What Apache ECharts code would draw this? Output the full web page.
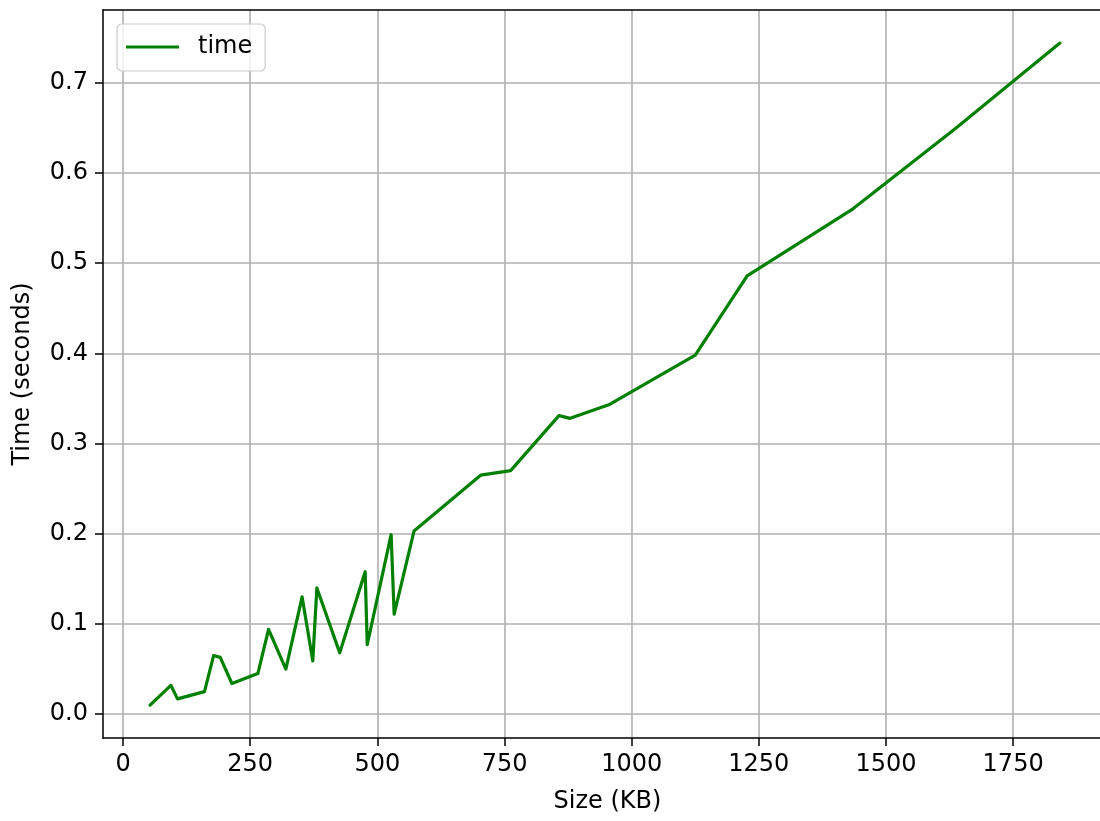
<!DOCTYPE html>
<html>
<head>
<meta charset="utf-8">
<title>Time vs Size</title>
<script src="https://cdn.jsdelivr.net/npm/echarts@6/dist/echarts.min.js"></script>
<style>
  html, body { margin: 0; padding: 0; background: #ffffff; overflow: hidden; }
  #chart { width: 1100px; height: 821px; }
</style>
</head>
<body>
<div id="chart"></div>
<script>
// File size in KB for each measurement
const sizes = [53, 94, 107, 160, 178, 191, 214, 265, 286, 320, 352, 373, 381, 426,
               476, 480, 527, 533, 572, 703, 762, 857, 879, 955, 1125, 1227, 1432, 1636, 1842];
// Elapsed time in seconds for each size
const times = [0.010, 0.032, 0.017, 0.025, 0.065, 0.063, 0.034, 0.045, 0.094, 0.050,
               0.130, 0.059, 0.140, 0.068, 0.158, 0.077, 0.199, 0.111, 0.203, 0.265,
               0.270, 0.331, 0.328, 0.343, 0.398, 0.486, 0.559, 0.649, 0.744];
// Tick positions
const xTicks = [0, 250, 500, 750, 1000, 1250, 1500, 1750];
const yTicks = [0.0, 0.1, 0.2, 0.3, 0.4, 0.5, 0.6, 0.7];

const FONT = 'DejaVu Sans';
// visible x range: the frame's right edge falls just past the page edge
const X_MIN = -39.5, X_MAX = 1920.8;
const points = sizes.map((s, i) => [s, times[i]]);

const spine = { show: true, onZero: false, lineStyle: { color: '#000000', width: 1.5 } };

const chart = echarts.init(document.getElementById('chart'), null, { renderer: 'canvas' });
chart.setOption({
  animation: false,
  backgroundColor: '#ffffff',
  textStyle: { fontFamily: FONT },
  grid: {
    left: 103, top: 10, width: 997, height: 728,
    outerBoundsMode: 'none',
    show: false
  },
  legend: {
    left: 117, top: 24,
    data: ['time'],
    icon: 'rect',
    itemWidth: 53, itemHeight: 3,
    padding: [9, 13, 10, 9],
    backgroundColor: 'rgba(255,255,255,0.8)',
    borderColor: '#cccccc', borderWidth: 1.2, borderRadius: 5,
    formatter: '{t|{name}}',
    textStyle: {
      fontFamily: FONT, fontSize: 24, color: '#000000', lineHeight: 28,
      rich: { t: { fontFamily: FONT, fontSize: 24, color: '#000000', lineHeight: 28, padding: [0, 0, 0, 14] } }
    }
  },
  xAxis: [{
    type: 'value',
    position: 'bottom',
    min: X_MIN, max: X_MAX,
    name: 'Size (KB)', nameLocation: 'middle', nameGap: 52,
    nameTextStyle: { fontFamily: FONT, fontSize: 24, color: '#000000', padding: [0, 0, 0, 12] },
    axisLine: spine,
    axisTick: { show: true, inside: false, length: 8, lineStyle: { color: '#000000', width: 1.5 }, customValues: xTicks },
    axisLabel: {
      customValues: xTicks, margin: 15, fontFamily: FONT, fontSize: 24, color: '#000000',
      formatter: v => String(Math.round(v))
    },
    splitLine: { show: true, lineStyle: { color: '#b0b0b0', width: 1.6 } }
  }, {
    // top edge of the frame
    type: 'value',
    position: 'top',
    min: X_MIN, max: X_MAX,
    axisLine: spine,
    axisTick: { show: false },
    axisLabel: { show: false },
    splitLine: { show: false }
  }],
  yAxis: [{
    type: 'value',
    position: 'left',
    min: -0.0264, max: 0.7807,
    name: 'Time (seconds)', nameLocation: 'middle', nameGap: 68, nameRotate: 90,
    nameTextStyle: { fontFamily: FONT, fontSize: 24, color: '#000000' },
    axisLine: spine,
    axisTick: { show: true, inside: false, length: 8, lineStyle: { color: '#000000', width: 1.5 }, customValues: yTicks },
    axisLabel: {
      customValues: yTicks, margin: 15, fontFamily: FONT, fontSize: 24, color: '#000000',
      formatter: v => v.toFixed(1)
    },
    splitLine: { show: true, lineStyle: { color: '#b0b0b0', width: 1.6 } }
  }],
  series: [{
    name: 'time',
    type: 'line',
    data: points,
    symbol: 'none',
    showSymbol: false,
    itemStyle: { color: '#008000' },
    lineStyle: { color: '#008000', width: 3.2, join: 'round', cap: 'round' },
    z: 3
  }]
});
</script>
</body>
</html>
